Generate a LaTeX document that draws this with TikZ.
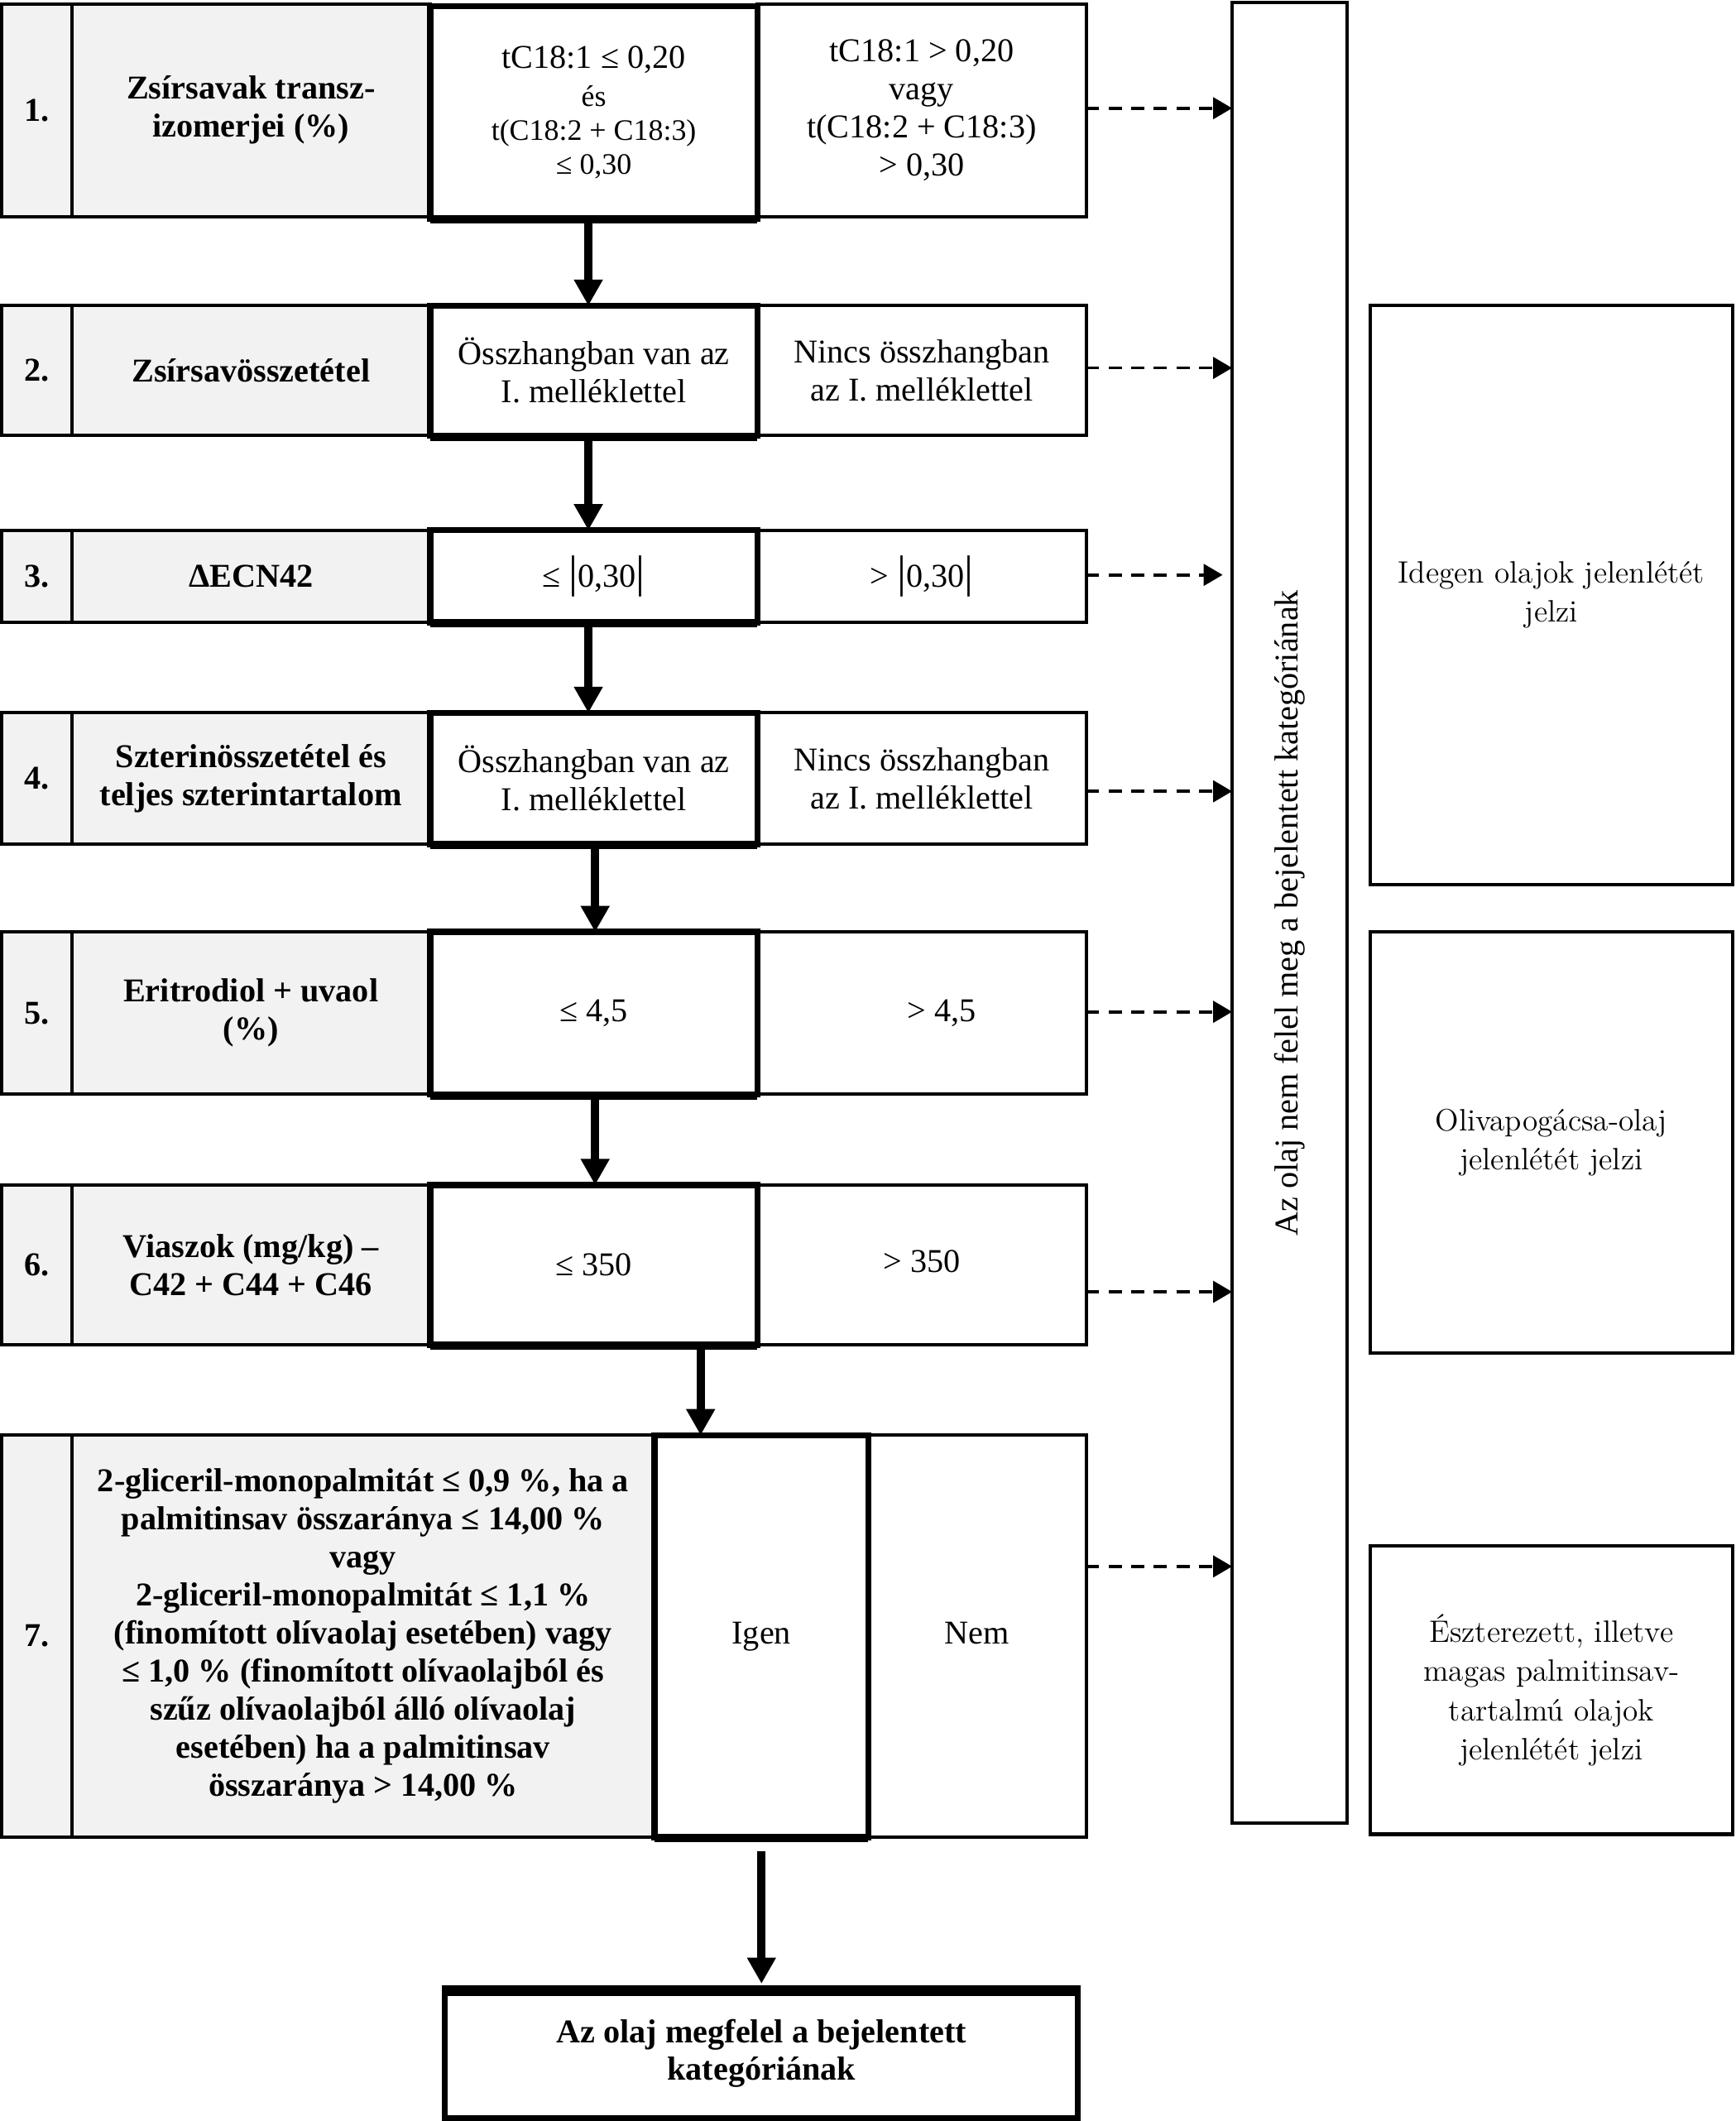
\documentclass[tikz,border=0pt]{standalone}
\usepackage{fontspec}
\newfontfamily\tnr{Liberation Serif}
\usetikzlibrary{arrows.meta}
\definecolor{cellgray}{HTML}{F2F2F2}
\begin{document}
\begin{tikzpicture}[x=0.02cm,y=-0.02cm,
  sz/.style 2 args={minimum width=#1*0.02cm, minimum height=#2*0.02cm},
  cell/.style={draw, line width=1.4pt, inner sep=0pt, outer sep=0pt, align=center,
    font=\tnr\fontsize{14}{16}\selectfont},
  gcell/.style={cell, fill=cellgray, font=\tnr\bfseries\fontsize{14}{16}\selectfont},
  tcell/.style={cell, line width=2.6pt},
  vbox/.style={draw, line width=1.4pt, inner sep=0pt, outer sep=0pt},
  sidebox/.style={draw, line width=1.4pt, inner sep=0pt, outer sep=0pt, align=center,
    font=\fontsize{13}{16.4}\selectfont},
  finbox/.style={draw, line width=2.4pt, inner sep=0pt, outer sep=0pt, align=center,
    font=\tnr\bfseries\fontsize{14}{16}\selectfont},
  sarrow/.style={line width=3.5pt, -{Triangle[width=11.5pt,length=11pt]}},
  darrow/.style={line width=1.3pt, dash pattern=on 5.5pt off 4pt,
    -{Triangle[width=9pt,length=8pt]}},
  thickbot/.style={line width=3.2pt}
]
\fill[white] (0,0) rectangle (1283,1568);
\useasboundingbox (0,0) rectangle (1283,1568);

% ---------- Row 1 ----------
\node[gcell, sz={51.5}{157}] (n1) at (27.25,81.5) {1.};
\node[gcell, sz={265}{157}] (l1) at (185.5,81.5) {Zsírsavak transz-\\izomerjei (\%)};
\node[cell, sz={243}{157}] (r1) at (681.5,81.5) {tC18:1 > 0,20\\vagy\\t(C18:2 + C18:3)\\> 0,30};
\node[tcell, sz={242}{157}, font=\tnr\fontsize{12.5}{14.2}\selectfont] (m1) at (439,83)
  {{\fontsize{14}{16}\selectfont tC18:1 ≤ 0,20}\\[2pt]és\\t(C18:2 + C18:3)\\≤ 0,30};
\draw[thickbot] ([yshift=-0.6pt]m1.south west) -- ([yshift=-0.6pt]m1.south east);

% ---------- Row 2 ----------
\node[gcell, sz={51.5}{96}] (n2) at (27.25,274) {2.};
\node[gcell, sz={265}{96}] (l2) at (185.5,274) {Zsírsavösszetétel};
\node[cell, sz={243}{96}] (r2) at (681.5,274) {Nincs összhangban\\az I. melléklettel};
\node[tcell, sz={242}{96}] (m2) at (439,274) {Összhangban van az\\I. melléklettel};
\draw[thickbot] ([yshift=-0.6pt]m2.south west) -- ([yshift=-0.6pt]m2.south east);

% ---------- Row 3 ----------
\node[gcell, sz={51.5}{68}] (n3) at (27.25,426) {3.};
\node[gcell, sz={265}{68}] (l3) at (185.5,426) {ΔECN42};
\node[cell, sz={243}{68}] (r3) at (681.5,426) {> {\fontsize{19}{19}\selectfont|}0,30{\fontsize{19}{19}\selectfont|}};
\node[tcell, sz={242}{68}] (m3) at (439,426) {≤ {\fontsize{19}{19}\selectfont|}0,30{\fontsize{19}{19}\selectfont|}};
\draw[thickbot] ([yshift=-0.6pt]m3.south west) -- ([yshift=-0.6pt]m3.south east);

% ---------- Row 4 ----------
\node[gcell, sz={51.5}{97}] (n4) at (27.25,575.5) {4.};
\node[gcell, sz={265}{97}] (l4) at (185.5,575.5) {Szterinösszetétel és\\teljes szterintartalom};
\node[cell, sz={243}{97}] (r4) at (681.5,575.5) {Nincs összhangban\\az I. melléklettel};
\node[tcell, sz={242}{97}] (m4) at (439,575.5) {Összhangban van az\\I. melléklettel};
\draw[thickbot] ([yshift=-0.6pt]m4.south west) -- ([yshift=-0.6pt]m4.south east);

% ---------- Row 5 ----------
\node[gcell, sz={51.5}{120}] (n5) at (27.25,749) {5.};
\node[gcell, sz={265}{120}] (l5) at (185.5,749) {Eritrodiol + uvaol\\(\%)};
\node[cell, sz={243}{120}] (r5) at (681.5,749) {\hspace*{17pt}> 4,5};
\node[tcell, sz={242}{120}] (m5) at (439,749) {≤ 4,5};
\draw[thickbot] ([yshift=-0.6pt]m5.south west) -- ([yshift=-0.6pt]m5.south east);

% ---------- Row 6 ----------
\node[gcell, sz={51.5}{118}] (n6) at (27.25,935) {6.};
\node[gcell, sz={265}{118}] (l6) at (185.5,935) {Viaszok (mg/kg) –\\C42 + C44 + C46};
\node[cell, sz={243}{118}] (r6) at (681.5,935) {\raisebox{3pt}{> 350}};
\node[tcell, sz={242}{118}] (m6) at (439,935) {≤ 350};
\draw[thickbot] ([yshift=-0.6pt]m6.south west) -- ([yshift=-0.6pt]m6.south east);

% ---------- Row 7 ----------
\node[gcell, sz={51.5}{297}] (n7) at (27.25,1209.5) {7.};
\node[gcell, sz={431}{297}] (l7) at (268.5,1209.5)
  {2-gliceril-monopalmitát ≤ 0,9 \%, ha a\\
   palmitinsav összaránya ≤ 14,00 \%\\
   vagy\\
   2-gliceril-monopalmitát ≤ 1,1 \%\\
   (finomított olívaolaj esetében) vagy\\
   ≤ 1,0 \% (finomított olívaolajból és\\
   szűz olívaolajból álló olívaolaj\\
   esetében) ha a palmitinsav\\
   összaránya > 14,00 \%};
\node[cell, sz={161}{297}] (nem) at (722.5,1209.5) {\strut Nem};
\node[tcell, sz={158}{297}] (igen) at (563,1209.5) {\strut Igen};
\draw[thickbot] ([yshift=-0.6pt]igen.south west) -- ([yshift=-0.6pt]igen.south east);

% ---------- Final box ----------
\node[finbox, sz={468}{96}] (fin) at (563,1518) {Az olaj megfelel a bejelentett\\kategóriának};
\draw[line width=4.5pt] ([yshift=-1pt]fin.north west) -- ([yshift=-1pt]fin.north east);

% ---------- Vertical box ----------
\node[vbox, sz={85}{1346}] (vb) at (953.5,675) {};
\node[rotate=90, font=\tnr\fontsize{14}{16}\selectfont] (vbt) at (vb.center) {Az olaj nem felel meg a bejelentett kategóriának};

% ---------- Side boxes ----------
\node[sidebox, sz={268}{428}] (sa) at (1147,440) {Idegen olajok jelenlétét\\jelzi};
\node[sidebox, sz={268}{311}] (sb) at (1147,844.5) {Olivapogácsa-olaj\\jelenlétét jelzi};
\node[sidebox, sz={268}{213}] (sc) at (1147,1249.5) {Észterezett, illetve\\magas palmitinsav-\\tartalmú olajok\\jelenlétét jelzi};

% ---------- Solid arrows ----------
\coordinate (c1) at (435,0);
\coordinate (c4) at (440,0);
\coordinate (c67) at (518,0);
\draw[sarrow] ([yshift=-2pt]m1.south -| c1) -- (m2.north -| c1);
\draw[sarrow] ([yshift=-2pt]m2.south -| c1) -- (m3.north -| c1);
\draw[sarrow] ([yshift=-2pt]m3.south -| c1) -- (m4.north -| c1);
\draw[sarrow] ([yshift=-2pt]m4.south -| c4) -- (m5.north -| c4);
\draw[sarrow] ([yshift=-2pt]m5.south -| c4) -- (m6.north -| c4);
\draw[sarrow] ([yshift=-2pt]m6.south -| c67) -- (igen.north -| c67);
\draw[sarrow] ([yshift=-6pt]igen.south) -- ([yshift=2pt]fin.north);

% ---------- Dashed arrows ----------
\coordinate (d1) at (0,80);
\coordinate (d2) at (0,272);
\coordinate (d3) at (0,425);
\coordinate (d4) at (0,585);
\coordinate (d5) at (0,748);
\coordinate (d6) at (0,955);
\coordinate (d7) at (0,1158);
\draw[darrow] (r1.east |- d1) -- (vb.west |- d1);
\draw[darrow] (r2.east |- d2) -- (vb.west |- d2);
\draw[darrow, shorten >=4pt] (r3.east |- d3) -- (vb.west |- d3);
\draw[darrow] (r4.east |- d4) -- (vb.west |- d4);
\draw[darrow] (r5.east |- d5) -- (vb.west |- d5);
\draw[darrow] (r6.east |- d6) -- (vb.west |- d6);
\draw[darrow] (nem.east |- d7) -- (vb.west |- d7);
\end{tikzpicture}
\end{document}
